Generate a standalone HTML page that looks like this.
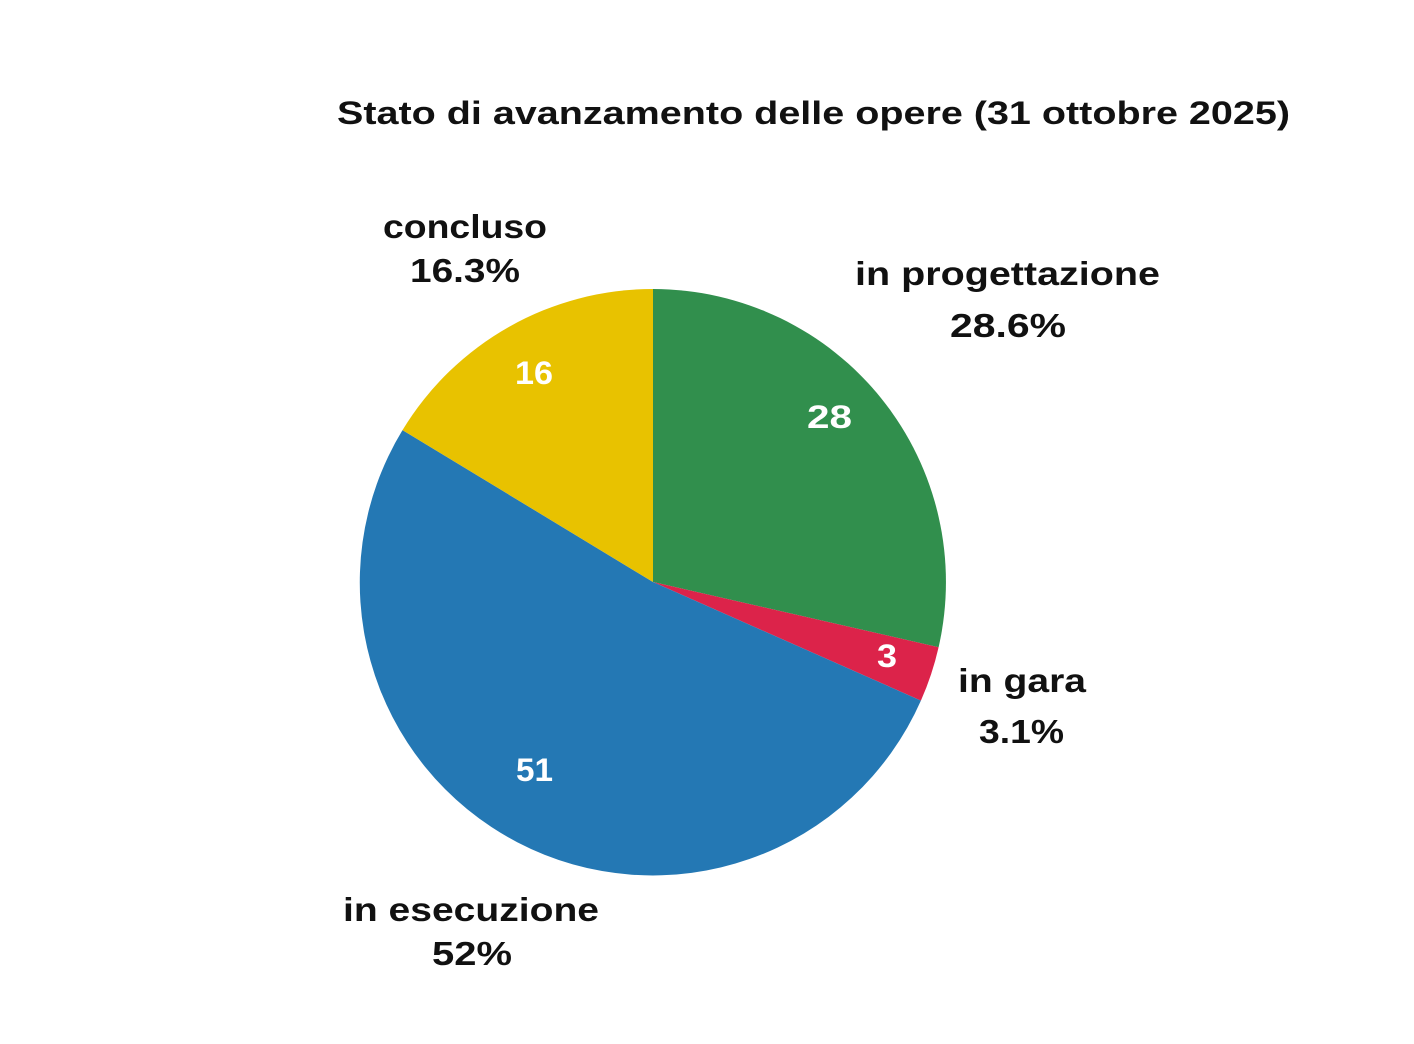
<!DOCTYPE html>
<html><head><meta charset="utf-8"><style>
body{margin:0;background:#fff;}
svg text{font-family:"Liberation Sans",sans-serif;font-weight:bold;}
</style></head><body>
<svg width="1414" height="1039" viewBox="0 0 1414 1039" xmlns="http://www.w3.org/2000/svg">
<rect width="1414" height="1039" fill="#fff"/>
<text x="337" y="124" font-size="32" fill="#111" textLength="953" lengthAdjust="spacingAndGlyphs">Stato di avanzamento delle opere (31 ottobre 2025)</text>
<path d="M653,582 L653,289 A293,293 0 0,1 938.6,647.2 Z" fill="#318f4d"/>
<path d="M653,582 L938.6,647.2 A293,293 0 0,1 920.9,700.6 Z" fill="#dc234a"/>
<path d="M653,582 L920.9,700.6 A293,293 0 1,1 402.5,430.1 Z" fill="#2478b4"/>
<path d="M653,582 L402.5,430.1 A293,293 0 0,1 653,289 Z" fill="#e8c200"/>
<g fill="#fff" font-size="32">
<text x="807" y="428" textLength="45" lengthAdjust="spacingAndGlyphs">28</text>
<text x="877" y="667" textLength="20" lengthAdjust="spacingAndGlyphs">3</text>
<text x="516" y="781" textLength="37" lengthAdjust="spacingAndGlyphs">51</text>
<text x="515" y="384" textLength="38" lengthAdjust="spacingAndGlyphs">16</text>
</g>
<g fill="#111" font-size="33">
<text x="383" y="238" textLength="164" lengthAdjust="spacingAndGlyphs">concluso</text>
<text x="410" y="282" textLength="110" lengthAdjust="spacingAndGlyphs">16.3%</text>
<text x="855" y="285" textLength="305" lengthAdjust="spacingAndGlyphs">in progettazione</text>
<text x="950" y="337" textLength="116" lengthAdjust="spacingAndGlyphs">28.6%</text>
<text x="958" y="692" textLength="128" lengthAdjust="spacingAndGlyphs">in gara</text>
<text x="979" y="743" textLength="85" lengthAdjust="spacingAndGlyphs">3.1%</text>
<text x="343" y="921" textLength="256" lengthAdjust="spacingAndGlyphs">in esecuzione</text>
<text x="432" y="965" textLength="80" lengthAdjust="spacingAndGlyphs">52%</text>
</g>
</svg>
</body></html>
